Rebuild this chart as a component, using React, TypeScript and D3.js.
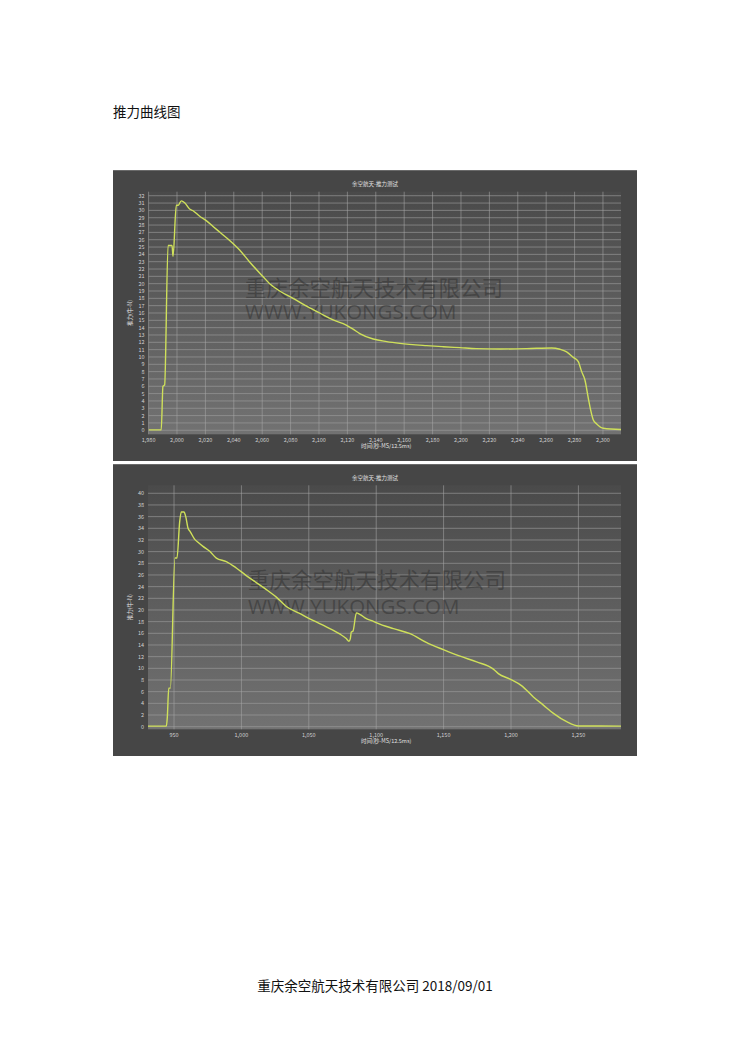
import React from "react";
import * as d3 from "d3";

// ---- Data ----
const topTimes = [1980, 1988.9, 1990.1, 1991.3, 1993.7, 1996.5, 1997.2, 1999.5, 2000.9, 2003.0, 2005.4, 2008.9, 2011.3, 2016, 2020.6, 2025.4, 2030, 2037.1, 2044.1, 2051, 2055.6, 2060.4, 2065.3, 2072.3, 2081.7, 2090.6, 2100.5, 2110, 2119.2, 2124, 2128.7, 2138.2, 2147.7, 2157, 2175.8, 2187.5, 2199.3, 2211, 2227.5, 2246.3, 2263.9, 2269.7, 2274.4, 2279.1, 2282.6, 2285, 2287.3, 2289.7, 2291.3, 2293.2, 2295.6, 2300.2, 2312.7];
const topValues = [0.05, 0.05, 6.0, 6.2, 25.2, 25.2, 23.7, 30.7, 30.7, 31.3, 31.05, 30.2, 29.95, 29.2, 28.6, 27.8, 27.05, 25.9, 24.6, 23.0, 22.0, 21.0, 20.0, 19.0, 18.0, 17.0, 16.0, 15.05, 14.36, 13.8, 13.2, 12.45, 12.1, 11.86, 11.55, 11.4, 11.27, 11.14, 11.09, 11.14, 11.23, 11.05, 10.7, 9.95, 9.36, 8.0, 6.86, 4.36, 2.77, 1.4, 0.86, 0.27, 0.1];

const bottomTimes = [930.7, 944.3, 945, 946.1, 947.3, 950.7, 952.2, 954.2, 955.4, 957.4, 958.7, 960.4, 962.1, 965.4, 967.8, 971.5, 976.5, 981.4, 988.8, 996.2, 1003.6, 1011, 1018.5, 1025.9, 1033.3, 1043.2, 1053.1, 1063, 1072.9, 1077.8, 1079.8, 1080.8, 1081.5, 1082.8, 1085.3, 1087.8, 1092.7, 1097.6, 1100.4, 1112.8, 1125.1, 1137.5, 1149.8, 1162.2, 1174.5, 1186.9, 1190.6, 1199.3, 1208, 1216.6, 1224, 1231.5, 1241.3, 1250, 1281.6];
const bottomValues = [0.1, 0.1, 1.5, 6.6, 6.6, 28.9, 28.9, 35.1, 36.8, 36.8, 36.0, 34.0, 33.4, 32.1, 31.6, 30.9, 30.06, 28.9, 28.3, 27.2, 25.9, 24.7, 23.5, 22.2, 20.6, 19.4, 18.2, 17.1, 15.9, 15.1, 14.64, 15.1, 16.2, 16.4, 19.5, 19.26, 18.5, 18.1, 17.8, 16.8, 15.95, 14.4, 13.2, 12.08, 11.1, 9.86, 9.1, 8.15, 7.0, 5.1, 3.7, 2.28, 0.85, 0.11, 0.1];

const topYTicks = d3.range(0, 33, 1);
const topXTicks = d3.range(1980, 2301, 20);
const bottomYTicks = d3.range(0, 41, 2);
const bottomXTicks = [950, 1000, 1050, 1100, 1150, 1200, 1250];

const chartTitle = "余空航天-推力测试";
const yLabel = "推力(牛-N)";
const xLabel = "时间(秒-MS/12.5ms)";
const heading = "推力曲线图";
const footer = "重庆余空航天技术有限公司 2018/09/01";
const watermark1 = "重庆余空航天技术有限公司";
const watermark2 = "WWW.YUKONGS.COM";

const fmt = d3.format(",");

type ChartProps = {
  id: string;
  panel: { x: number; y: number; w: number; h: number };
  plot: { x0: number; x1: number; y0: number; y1: number };
  xDomain: [number, number];
  yDomain: [number, number];
  times: number[];
  values: number[];
  xTicks: number[];
  yTicks: number[];
  wm: { x: number; y1: number; y2: number };
};

function Chart({ id, panel, plot, xDomain, yDomain, times, values, xTicks, yTicks, wm }: ChartProps) {
  const x = d3.scaleLinear().domain(xDomain).range([plot.x0, plot.x1]);
  const y = d3.scaleLinear().domain(yDomain).range([plot.y1, plot.y0]);
  const pts: [number, number][] = times.map((t, i) => [t, values[i]]);
  const line = d3
    .line<[number, number]>()
    .x((d) => x(d[0]))
    .y((d) => y(d[1]))
    .curve(d3.curveMonotoneX);
  const cx = (panel.x + panel.x + panel.w) / 2;
  const font = "'Noto Sans CJK SC', 'Noto Sans', sans-serif";
  return (
    <g>
      <defs>
        <linearGradient id={id + "-grad"} x1="0" y1="0" x2="0" y2="1">
          <stop offset="0%" stopColor="#4a4a4a" />
          <stop offset="100%" stopColor="#727272" />
        </linearGradient>
        <clipPath id={id + "-clip"}>
          <rect x={plot.x0} y={plot.y0} width={plot.x1 - plot.x0} height={plot.y1 - plot.y0} />
        </clipPath>
      </defs>
      <rect x={panel.x} y={panel.y} width={panel.w} height={panel.h} fill="#464646" />
      <rect x={panel.x} y={panel.y} width={panel.w} height={1} fill="#6a6a6a" />
      <rect
        x={plot.x0}
        y={plot.y0}
        width={plot.x1 - plot.x0}
        height={plot.y1 - plot.y0}
        fill={`url(#${id}-grad)`}
      />
      {yTicks.map((v) => (
        <line key={"h" + v} x1={plot.x0} x2={plot.x1} y1={y(v)} y2={y(v)} stroke="#a0a0a0" strokeOpacity={0.6} strokeWidth={1} />
      ))}
      {xTicks.map((v) => (
        <line key={"v" + v} x1={x(v)} x2={x(v)} y1={plot.y0} y2={plot.y1} stroke="#a8a8a8" strokeOpacity={0.55} strokeWidth={1} />
      ))}
      <text x={wm.x} y={wm.y1} fontSize={21.5} fontFamily={font} fill="#2e2e2e" fillOpacity={0.5}>
        {watermark1}
      </text>
      <text x={wm.x} y={wm.y2} fontSize={20.5} fontFamily="'Open Sans', 'DejaVu Sans', sans-serif" fill="#2e2e2e" fillOpacity={0.5}>
        {watermark2}
      </text>
      <path d={line(pts) || ""} fill="none" stroke="#cfe05a" strokeWidth={1.4} clipPath={`url(#${id}-clip)`} />
      {yTicks.map((v) => (
        <text key={"yl" + v} x={plot.x0 - 4} y={y(v)} dy="0.35em" fontSize={5.5} textAnchor="end" fill="#d0d0d0" fontFamily={font}>
          {v}
        </text>
      ))}
      {xTicks.map((v) => (
        <text key={"xl" + v} x={x(v)} y={plot.y1 + 8} fontSize={5.5} textAnchor="middle" fill="#d0d0d0" fontFamily={font}>
          {fmt(v)}
        </text>
      ))}
      <text x={cx} y={panel.y + 16} fontSize={5.5} textAnchor="middle" fill="#e0e0e0" fontFamily={font}>
        {chartTitle}
      </text>
      <text
        transform={`translate(${panel.x + 19},${(plot.y0 + plot.y1) / 2}) rotate(-90)`}
        fontSize={5.5}
        textAnchor="middle"
        fill="#e0e0e0"
        fontFamily={font}
      >
        {yLabel}
      </text>
      <text x={361} y={plot.y1 + 14} fontSize={5.5} fill="#e0e0e0" fontFamily={font}>
        {xLabel}
      </text>
    </g>
  );
}

export default function App() {
  const font = "'Noto Sans CJK SC', 'Noto Sans', sans-serif";
  return (
    <svg
      width={750}
      height={1060}
      style={{ position: "absolute", left: 0, top: 0, background: "#ffffff" }}
    >
      <rect x={0} y={0} width={750} height={1060} fill="#ffffff" />
      <text x={113} y={117} fontSize={13.5} fontFamily={font} fill="#111">
        {heading}
      </text>
      <Chart
        id="top"
        panel={{ x: 113, y: 170, w: 524, h: 291 }}
        plot={{ x0: 148.6, x1: 621, y0: 191.7, y1: 434.3 }}
        xDomain={[1980, 2312.7]}
        yDomain={[-0.55, 32.55]}
        times={topTimes}
        values={topValues}
        xTicks={topXTicks}
        yTicks={topYTicks}
        wm={{ x: 245, y1: 295.5, y2: 319 }}
      />
      <Chart
        id="bottom"
        panel={{ x: 113, y: 464, w: 524, h: 292 }}
        plot={{ x0: 148, x1: 621, y0: 485.3, y1: 729.3 }}
        xDomain={[930.7, 1281.6]}
        yDomain={[-0.45, 41.37]}
        times={bottomTimes}
        values={bottomValues}
        xTicks={bottomXTicks}
        yTicks={bottomYTicks}
        wm={{ x: 248, y1: 587.5, y2: 614 }}
      />
      <text x={375} y={991} fontSize={13.5} textAnchor="middle" fontFamily={font} fill="#111">
        {footer}
      </text>
    </svg>
  );
}
